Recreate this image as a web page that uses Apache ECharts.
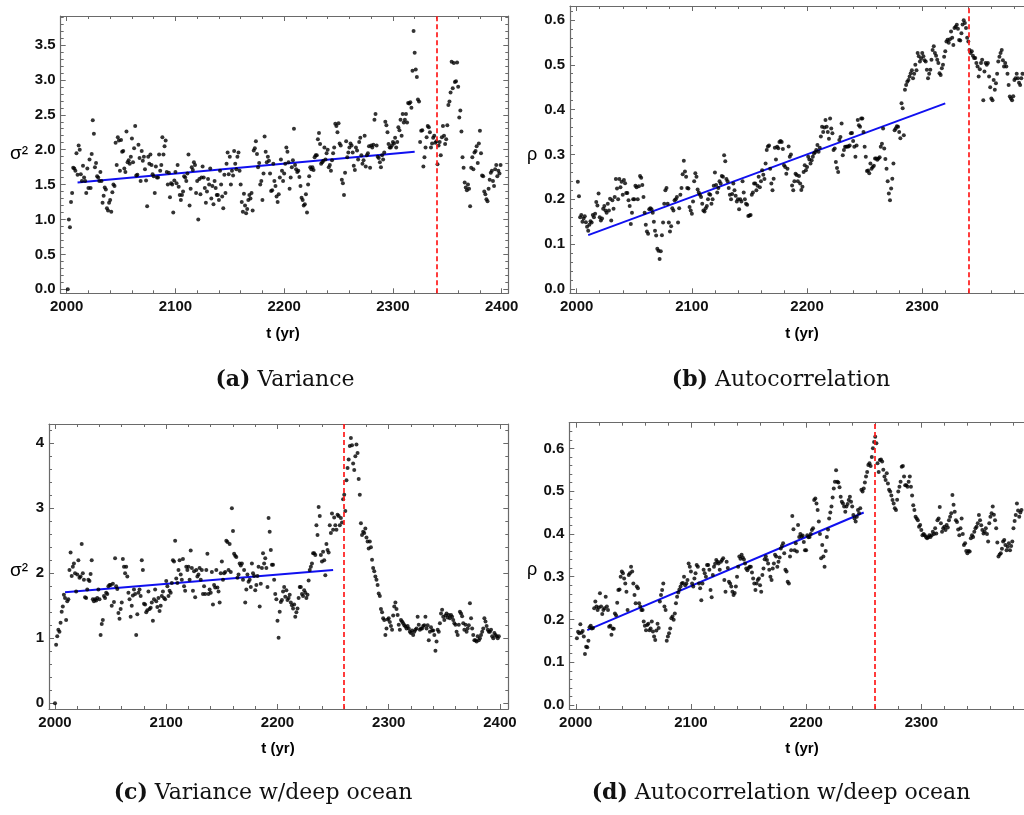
<!DOCTYPE html>
<html><head><meta charset="utf-8">
<script src="https://cdn.jsdelivr.net/npm/echarts@6/dist/echarts.min.js"></script>
<style>html,body{margin:0;padding:0;background:#fff}#c{width:1024px;height:815px}</style>
</head><body><div id="c"></div><script>
// ---------------- DATA ----------------
// (a) Variance, one value per year starting at startA
const startA = 2001;
const varianceA = [
0.00,1.00,0.89,1.25,1.38,1.74,1.73,1.70,1.95,1.64,
2.06,2.00,1.65,1.55,1.77,1.60,1.55,1.38,1.73,1.45,
1.86,1.45,1.94,2.42,2.23,1.75,1.81,1.62,1.60,1.55,
1.68,1.55,1.24,1.34,1.46,1.43,1.16,1.13,1.24,1.28,
1.11,1.39,1.50,1.48,2.10,1.78,2.18,2.13,1.70,2.14,
1.97,1.98,1.73,1.68,2.26,1.82,1.85,1.80,1.90,2.16,
1.82,2.02,2.34,1.63,1.64,2.07,1.88,1.55,1.98,1.84,
1.90,1.72,1.56,1.19,1.90,1.80,1.93,1.78,1.65,1.62,
1.38,1.76,1.60,1.60,1.93,1.70,1.78,2.18,1.93,2.05,
2.13,1.68,1.50,1.67,1.32,1.52,1.50,1.10,1.56,1.68,
1.52,1.78,1.47,1.35,1.28,1.35,1.40,1.62,1.60,1.55,
1.66,1.93,1.20,1.44,1.75,1.71,1.82,1.78,1.38,1.55,
1.00,1.58,1.36,1.60,1.76,1.60,1.45,1.24,1.40,1.58,
1.50,1.73,1.30,1.48,1.22,1.55,1.45,1.35,1.35,1.28,
1.70,1.50,1.33,1.16,1.64,1.38,1.80,1.96,1.65,1.90,
1.50,1.70,1.63,1.98,1.80,1.72,1.90,1.96,1.70,1.50,
1.25,1.11,1.37,1.20,1.09,1.15,1.28,1.35,1.30,1.38,
1.13,1.99,2.02,2.12,1.94,1.75,1.81,1.50,1.55,1.28,
1.66,2.19,1.97,1.82,1.90,1.84,1.66,1.41,1.42,1.80,
1.55,1.48,1.33,1.25,1.36,1.60,1.86,1.70,1.55,1.66,
1.80,2.03,1.97,1.82,1.44,1.60,1.75,1.85,2.30,1.78,
1.72,1.68,1.70,1.61,1.48,1.31,1.28,1.20,1.22,1.36,
1.10,1.50,1.62,1.75,1.72,1.75,1.71,1.89,1.92,1.92,
2.15,2.24,2.08,1.80,1.82,1.84,2.03,1.86,1.95,2.00,
1.75,1.78,1.70,1.85,1.95,2.03,2.37,2.34,2.25,2.38,
2.09,2.06,1.57,1.52,1.35,1.67,2.12,1.89,1.96,2.03,
2.09,2.06,1.96,1.77,1.71,2.03,1.99,1.86,2.11,2.17,
1.92,1.80,1.85,2.20,1.76,1.92,1.95,2.05,1.74,2.06,
2.03,2.07,2.43,2.51,2.06,1.90,1.88,1.82,1.75,1.92,
1.86,1.96,2.40,2.35,2.25,2.08,2.03,2.03,2.06,2.11,
2.09,2.17,2.03,2.11,2.32,2.28,2.43,2.20,2.51,2.39,
2.43,2.51,2.39,2.67,2.66,2.68,2.60,3.13,3.70,3.39,
3.15,3.04,2.72,2.69,2.11,2.27,2.28,1.76,1.89,2.03,
2.18,2.34,2.32,2.25,2.03,2.09,2.17,2.20,2.10,2.12,
1.79,2.06,2.11,1.92,2.18,2.34,2.20,2.08,2.15,2.35,
2.64,2.69,2.82,3.26,2.88,3.24,2.97,2.98,3.25,2.90,
2.46,2.56,2.26,1.89,1.74,1.53,1.46,1.42,1.50,1.44,
1.19,1.74,1.89,1.72,1.96,1.98,2.05,1.81,2.09,2.27,
1.95,1.63,1.62,1.40,1.36,1.29,1.26,1.44,1.57,1.67,
1.70,1.55,1.48,1.72,1.78,1.62,1.70,1.66,1.78
];
const fitTimeA = [2010, 2320];
const fitValA = [1.53, 1.97];
const tippingA = 2340;

// (b) Autocorrelation
const startB = 2001;
const rhoB = [
.239,.207,.160,.165,.150,.157,.162,.149,.139,.130,
.143,.151,.148,.165,.160,.168,.194,.186,.213,.160,
.153,.157,.179,.185,.175,.170,.190,.175,.201,.153,
.198,.179,.205,.245,.224,.200,.245,.227,.239,.210,
.243,.236,.214,.214,.198,.185,.145,.170,.200,.200,
.230,.227,.200,.229,.252,.248,.232,.205,.170,.143,
.128,.123,.178,.180,.178,.170,.150,.130,.119,.090,
.085,.067,.084,.120,.148,.190,.220,.225,.190,.148,
.128,.140,.180,.175,.198,.200,.205,.148,.180,.210,
.225,.256,.286,.262,.250,.225,.224,.183,.175,.168,
.195,.240,.258,.250,.222,.215,.210,.205,.190,.175,
.173,.180,.185,.200,.212,.210,.190,.200,.230,.260,
.232,.215,.225,.240,.235,.252,.250,.298,.285,.245,
.240,.225,.210,.200,.212,.235,.220,.208,.195,.200,
.178,.200,.195,.240,.215,.200,.190,.188,.163,.164,
.165,.210,.215,.235,.235,.220,.230,.250,.227,.240,
.265,.255,.245,.280,.310,.318,.320,
.268,.235,.220,.246,.315,.289,.317,.314,.328,.330,.328,.312,.276,.272,.257,.268,
.318,.295,.300,.231,.220,.240,.257,.254,.240,.252,.235,.221,.228,
.261,.276,.265,.272,.295,.289,.280,.287,.295,.302,.305,.310,.321,.306,.315,.340,.362,.350,.360,.377,.362,.350,.335,.380,.358,.347,.310,
.313,.283,.270,.261,.332,.339,.369,.298,.310,.317,.317,.318,.318,.320,.347,.348,.330,.317,.295,.320,.377,.365,.362,.380,
.380,.350,.317,.295,.263,.264,.258,.280,.268,.272,.275,.291,.291,.288,.291,.294,.317,.324,.358,.313,.290,.268,.240,.213,
.198,.224,.246,.280,.354,.358,.363,.362,.350,.336,.414,.403,.343,.444,.455,.462,.466,.474,.481,.488,.470,
.480,.500,.488,.526,.519,.507,.514,.526,.519,.510,.507,.489,.470,.480,.489,.511,.533,.541,.526,.520,
.511,.504,.481,.477,.492,.500,.518,.530,.552,.556,.549,.557,.574,.560,.544,.582,.585,.589,.580,.555,
.554,.570,.590,.599,.593,.582,.560,.552,
.533,.526,.530,.520,.515,.515,.504,.496,.474,.490,.504,.511,.421,.485,.504,.500,.504,.474,.450,.425,
.421,.466,.444,.459,.480,.507,.518,.526,.533,.510,.496,.504,.496,.480,.455,.429,.425,.421,.430,.466,
.470,.480,.470,.460,.455,.470,.480
];
const fitTimeB = [2010, 2320];
const fitValB = [0.120, 0.414];
const tippingB = 2340;

// (c) Variance w/deep ocean
const startC = 2000;
const varianceC = [
0.00,
0.90,1.03,1.13,1.10,1.24,1.41,1.49,1.67,1.62,1.28,
1.57,1.60,2.05,2.32,1.96,2.10,2.15,2.00,1.72,1.98,
2.20,1.93,1.95,2.45,2.00,1.90,1.63,1.62,1.75,1.90,
1.88,1.99,2.20,1.60,1.57,1.60,1.58,1.62,1.75,1.60,
1.05,1.22,1.28,1.65,1.62,1.70,1.68,1.80,1.82,1.82,
1.50,1.84,1.56,2.23,1.80,1.76,1.39,1.30,1.45,1.55,
2.22,2.10,2.00,2.10,1.95,1.70,1.60,1.33,1.50,1.66,
1.75,1.68,1.05,1.37,1.70,1.75,1.65,2.20,2.05,1.53,
1.52,1.40,1.43,1.72,1.45,1.47,1.55,1.27,1.60,1.75,
1.57,1.48,1.62,1.42,1.50,1.65,1.72,1.62,1.60,1.88,
1.80,1.65,1.73,1.70,1.85,2.20,2.18,2.50,1.92,1.85,
2.05,2.20,1.98,1.90,2.22,1.80,1.73,2.10,2.05,2.10,
1.90,2.35,2.08,1.73,2.03,1.63,2.05,1.95,1.98,2.08,
1.90,2.05,1.68,1.80,1.68,2.05,2.30,1.68,1.75,1.70,
2.02,1.52,1.82,1.78,2.05,1.78,1.72,1.55,2.00,2.18,
1.90,2.00,2.02,2.50,2.48,2.05,2.45,2.02,3.00,2.65,
2.30,2.27,2.25,1.93,1.98,2.15,2.12,2.15,1.90,2.05,
1.55,1.75,1.98,1.87,
1.90,1.79,2.15,2.00,1.96,1.74,1.82,1.96,2.10,1.49,1.84,2.08,2.31,2.15,2.23,2.08,
1.79,2.85,2.64,2.36,2.13,2.13,1.90,1.68,1.60,1.27,
1.01,1.41,1.56,1.59,1.72,1.79,1.64,1.74,1.59,1.62,
1.67,1.55,1.51,1.46,1.52,1.33,1.40,1.46,1.62,1.79,
1.79,1.68,1.65,1.74,1.70,1.62,1.67,
1.89,2.05,2.10,2.15,2.31,2.31,2.28,2.74,2.59,3.02,2.88,2.28,2.18,2.33,2.20,1.97,2.45,2.36,2.32,2.74,2.62,2.92,2.67,
2.86,2.74,2.67,2.90,2.88,2.74,2.85,2.78,3.14,3.21,
2.96,3.43,3.62,3.75,3.96,4.08,3.97,3.69,3.59,3.80,3.98,3.85,3.45,3.21,
2.77,2.59,2.64,2.62,2.69,
2.55,2.49,2.38,2.49,2.40,2.21,2.08,2.03,1.95,1.90,1.82,1.69,1.65,1.45,1.40,1.31,
1.28,1.05,1.15,1.29,1.31,1.25,1.19,1.13,1.35,1.49,1.55,1.45,1.36,1.21,1.13,1.28,1.26,1.23,1.20,1.18,1.15,1.19,1.15,1.10,1.08,1.12,1.05,1.10,1.13,1.15,
1.33,1.21,1.13,1.15,1.15,1.19,1.20,1.33,1.15,1.20,0.97,1.10,1.17,1.12,
1.12,1.05,0.81,0.95,1.13,1.10,1.23,1.38,1.44,1.33,1.28,1.35,1.38,1.32,1.36,1.31,
1.36,1.33,1.28,1.23,1.21,1.10,1.05,1.21,1.41,1.38,1.34,1.23,1.13,1.21,1.10,1.15,1.20,1.54,1.31,1.15,1.05,0.97,0.97,0.95,1.03,0.97,1.00,1.05,1.10,1.15,
1.31,1.26,1.19,1.13,1.10,1.10,1.13,1.03,1.00,1.08,1.05,1.03,1.00,1.03
];
const fitTimeC = [2009, 2250];
const fitValC = [1.71, 2.05];
const tippingC = 2260;

// (d) Autocorrelation w/deep ocean
const startD = 2001;
const rhoD = [
.156,.171,.168,.189,.169,.173,.160,.119,.136,.135,.150,.182,.185,.179,.180,.226,.242,.230,.222,.228,.261,.230,.213,.222,.226,.253,.230,.222,.183,.185,.164,.179,.178,.214,.210,.239,
.269,.270,.300,.312,.308,.296,.284,.265,.222,.304,.308,.323,.312,.284,.257,.238,.277,.273,.238,.230,.222,
.222,.195,.185,.175,.187,.190,.175,.179,.195,.172,.160,.152,.174,.190,.180,
.242,.257,.269,.284,.230,.222,.150,.160,.168,
.179,.203,.207,.199,.214,.238,.253,.263,.270,.277,.284,.285,.300,
.280,.284,.292,.331,.323,.312,.284,.277,.296,.308,.327,.323,.284,.273,.245,.284,.316,.308,.300,.327,.327,.316,.269,.252,.304,.323,.330,.339,.335,.331,
.316,.335,.339,.343,.292,.265,.335,.320,.288,.284,.277,.265,.257,.262,.277,.300,.323,.347,.342,.351,.345,.340,.331,.319,.315,.320,.323,.323,.310,
.296,.284,.269,.284,.292,.296,.280,.265,.304,.319,.341,.347,.339,.331,
.316,.300,.292,.319,.331,.351,.347,.323,.335,.345,.366,.372,.378,.355,.316,.312,.288,.284,.347,.362,.442,.411,.362,.378,.359,.421,.393,.400,.394,
.396,.381,.362,.362,.397,.392,.393,.400,.409,.413,.479,.483,.471,.456,.429,.400,.343,.374,.347,.323,.360,.393,.410,.436,.450,.464,.485,.506,.522,
.549,.522,.520,.509,.487,.475,.471,.464,.452,.464,.470,.479,.487,.475,.464,.444,.436,.429,.440,.456,.448,.460,.503,.499,.506,.520,.534,.545,.561,.565,.559,.580,.600,.615,.627,
.612,.565,.545,.573,.574,.569,.550,.534,.526,.542,.518,.503,.499,.490,.479,.471,.460,.456,.480,.499,.510,.522,.557,
.559,.534,.514,.514,.510,.522,.534,.510,.490,.467,.456,.440,.436,.432,.417,.421,.409,.397,.400,.397,.393,.390,.392,.397,.393,.397,.405,.400,.413,
.401,.432,.436,.463,.425,.405,.413,.417,.409,.421,.415,.432,.440,.448,.491,.468,.452,.432,.428,.410,.397,.413,.436,.400,.374,.378,.360,.355,.360,
.359,.390,.397,.393,.405,.413,.417,.425,.444,.432,.420,.409,.401,.405,.413,.400,.382,.425,.440,.448,.464,.445,.432,.413,.380,.347,.352,.355,.365,
.382,.386,.374,.362,.370,.378,.362,.372,.382,.413,.430,.444,.471,.455,.440,.450,.456
];
const fitTimeD = [2010, 2250];
const fitValD = [0.175, 0.450];
const tippingD = 2260;

// tick labels
const xTicksFull = [2000, 2100, 2200, 2300, 2400];
const xTicksCut = [2000, 2100, 2200, 2300];
const yTicksVarA = [0, 0.5, 1, 1.5, 2, 2.5, 3, 3.5];
const yTicksVarC = [0, 1, 2, 3, 4];
const yTicksRho = [0, 0.1, 0.2, 0.3, 0.4, 0.5, 0.6];

// ---------------- LAYOUT / STYLE ----------------
const FRAME = '#6a6a6a';
const SANS = 'Liberation Sans';
const SERIF = 'DejaVu Serif';
const CAP_SIZE = 22;

function tickList(lo, hi, step, skip) {
  const out = [];
  const n = Math.round((hi - lo) / step);
  for (let i = 0; i <= n; i++) {
    const v = +(lo + i * step).toFixed(6);
    if (!skip.some(m => Math.abs(m - v) < 1e-9)) out.push(v);
  }
  return out;
}

const panels = [
  { vals: varianceA, start: startA, fitT: fitTimeA, fitV: fitValA, red: tippingA,
    rect: {left: 60.7, top: 16, width: 447.6, height: 277.3},
    xr: [1994.5, 2406.1], yr: [-0.057, 3.915], xLab: xTicksFull,
    yMaj: yTicksVarA, yMin: tickList(0, 3.9, 0.1, yTicksVarA), fmt: v => v.toFixed(1) },
  { vals: rhoB, start: startB, fitT: fitTimeB, fitV: fitValB, red: tippingB,
    rect: {left: 570, top: 6, width: 474, height: 287.3},
    xr: [1994.2, 2405.7], yr: [-0.0096, 0.631], xLab: xTicksCut,
    yMaj: yTicksRho, yMin: tickList(0, 0.62, 0.02, yTicksRho), fmt: v => v.toFixed(1) },
  { vals: varianceC, start: startC, fitT: fitTimeC, fitV: fitValC, red: tippingC,
    rect: {left: 49, top: 424, width: 459.3, height: 285},
    xr: [1994.6, 2407.5], yr: [-0.088, 4.297], xLab: xTicksFull,
    yMaj: yTicksVarC, yMin: tickList(0, 4.2, 0.2, yTicksVarC), fmt: v => String(Math.round(v)) },
  { vals: rhoD, start: startD, fitT: fitTimeD, fitV: fitValD, red: tippingD,
    rect: {left: 569.3, top: 422.7, width: 474, height: 286.3},
    xr: [1994.4, 2405.9], yr: [-0.0094, 0.66], xLab: xTicksCut,
    yMaj: yTicksRho, yMin: tickList(0, 0.64, 0.02, yTicksRho), fmt: v => v.toFixed(1) }
];
const xMinor = tickList(2000, 2400, 20, xTicksFull);

function mkAxis(type, gridIndex, position, range, ticks, labels, tickLen, showLine, fmt) {
  return {
    type: 'value', gridIndex, position, min: range[0], max: range[1],
    axisLine: {show: showLine, onZero: false, lineStyle: {color: FRAME, width: 1.2}},
    axisTick: {show: true, inside: true, length: tickLen, customValues: ticks, lineStyle: {color: FRAME, width: 1}},
    axisLabel: labels ? {show: true, customValues: labels, formatter: fmt, color: '#111',
      fontFamily: SANS, fontWeight: 'bold', fontSize: 15, margin: type === 'x' ? 6 : 5} : {show: false},
    splitLine: {show: false}, minorTick: {show: false}, minorSplitLine: {show: false},
    axisPointer: {show: false}
  };
}

const grid = [], xAxis = [], yAxis = [], series = [];
panels.forEach(p => {
  const gMain = grid.length;
  grid.push(Object.assign({show: false, containLabel: false, outerBoundsMode: 'none'}, p.rect));
  const gMinor = grid.length;
  grid.push(Object.assign({show: false, containLabel: false, outerBoundsMode: 'none'}, p.rect));
  const xi = xAxis.length, yi = yAxis.length;
  const xFmt = v => String(Math.round(v));
  xAxis.push(mkAxis('x', gMain, 'bottom', p.xr, xTicksFull, p.xLab, 5, true, xFmt));
  xAxis.push(mkAxis('x', gMain, 'top', p.xr, xTicksFull, null, 5, true));
  xAxis.push(mkAxis('x', gMinor, 'bottom', p.xr, xMinor, null, 3, false));
  xAxis.push(mkAxis('x', gMinor, 'top', p.xr, xMinor, null, 3, false));
  yAxis.push(mkAxis('y', gMain, 'left', p.yr, p.yMaj, p.yMaj, 5, true, p.fmt));
  yAxis.push(mkAxis('y', gMain, 'right', p.yr, p.yMaj, null, 5, true));
  yAxis.push(mkAxis('y', gMinor, 'left', p.yr, p.yMin, null, 3, false));
  yAxis.push(mkAxis('y', gMinor, 'right', p.yr, p.yMin, null, 3, false));

  series.push({
    type: 'line', xAxisIndex: xi, yAxisIndex: yi, silent: true, symbol: 'none', z: 3,
    data: p.fitT.map((t, k) => [t, p.fitV[k]]),
    lineStyle: {color: '#1010f0', width: 2},
    markLine: {silent: true, symbol: ['none', 'none'], label: {show: false},
      lineStyle: {color: '#ff1a1a', width: 1.7, type: [5, 3]},
      data: [{xAxis: p.red}]}
  });
  series.push({
    type: 'scatter', xAxisIndex: xi, yAxisIndex: yi, silent: true, z: 4,
    symbol: 'circle', symbolSize: 4,
    itemStyle: {color: '#000'},
    data: p.vals.map((v, k) => [p.start + k, v])
  });
});

function txt(x, y, text, size, family, weight) {
  return {type: 'text', x, y, silent: true, style: {text, fill: '#000', fontSize: size, fontFamily: family,
    fontWeight: weight || 'normal', textAlign: 'center', textVerticalAlign: 'middle', verticalAlign: 'middle'}};
}
function caption(x, y, tag, rest) {
  return {type: 'text', x, y, silent: true, style: {
    text: '{b|' + tag + '} ' + rest, fill: '#111', fontSize: CAP_SIZE, fontFamily: SERIF,
    textAlign: 'center', textVerticalAlign: 'middle', verticalAlign: 'middle',
    rich: {b: {fontWeight: 'bold', fontSize: CAP_SIZE, fontFamily: SERIF, fill: '#111'}}}};
}

const graphic = [
  txt(19, 154, 'σ²', 19, SANS), txt(532, 155, 'ρ', 18, SANS),
  txt(19, 571, 'σ²', 19, SANS), txt(532, 570, 'ρ', 18, SANS),
  txt(283, 334, 't (yr)', 15, SANS, 'bold'), txt(802, 334, 't (yr)', 15, SANS, 'bold'),
  txt(278, 749, 't (yr)', 15, SANS, 'bold'), txt(802, 749, 't (yr)', 15, SANS, 'bold'),
  caption(285, 380, '(a)', 'Variance'), caption(781, 380, '(b)', 'Autocorrelation'),
  caption(263, 793, '(c)', 'Variance w/deep ocean'), caption(781, 793, '(d)', 'Autocorrelation w/deep ocean')
];

const chart = echarts.init(document.getElementById('c'), null, {renderer: 'canvas', width: 1024, height: 815});
chart.setOption({
  animation: false, backgroundColor: '#fff',
  grid, xAxis, yAxis, series, graphic
});
</script></body></html>
